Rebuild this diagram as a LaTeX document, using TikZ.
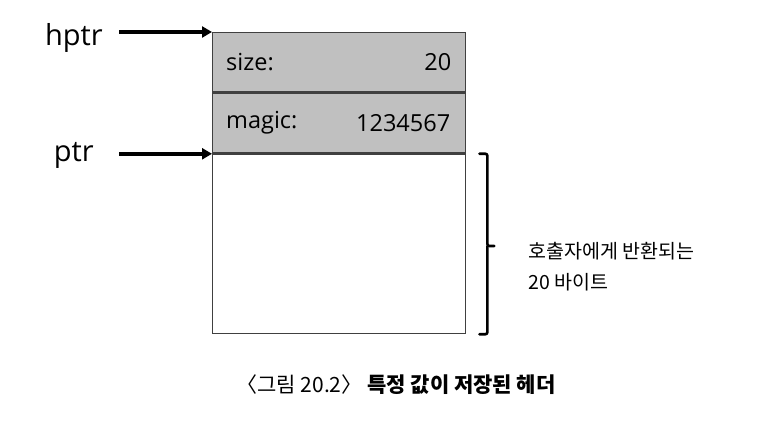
\documentclass[tikz,border=0pt]{standalone}
\usepackage{fontspec}
\setmainfont{Open Sans}
\newfontfamily\krfont{Noto Sans CJK KR}
\usetikzlibrary{arrows.meta,positioning}
\definecolor{cellgray}{RGB}{192,192,192}
\definecolor{celledge}{RGB}{64,64,64}
\tikzset{
  cell/.style={
    draw=celledge,
    line width=1.4pt,
    rectangle,
    anchor=north west,
    minimum width=253pt,
    inner sep=0pt
  },
  cell-head/.style={cell, fill=cellgray},
  cell-data/.style={cell, fill=white},
  field/.style={font=\fontsize{23.5}{26}\selectfont, inner sep=0pt},
  ptr-label/.style={font=\fontsize{29}{32}\selectfont, inner sep=0pt, anchor=east},
  ptr-arrow/.style={line width=3.5pt, -{Triangle[length=10pt,width=11pt]}},
  brace-line/.style={line width=2.6pt, line cap=round, rounded corners=2pt},
  note/.style={font=\krfont\fontsize{19.5}{31}\selectfont, align=left, anchor=west, inner sep=0pt}
}

\begin{document}
\begin{tikzpicture}[x=1pt,y=-1pt]
  \useasboundingbox (0,0) rectangle (782,422);
  % header cells and returned area
  \node[cell-head, minimum height=59pt] (sizecell) at (212,32) {};
  \node[cell-head, minimum height=60pt] (magiccell) at (sizecell.south west) {};
  \node[cell-data, minimum height=179pt] (datacell) at (magiccell.south west) {};
  % field texts
  \node[field, anchor=west] (sizename) at ([xshift=14pt]sizecell.west) {size:};
  \node[field, anchor=east] (sizeval) at ([xshift=-15pt]sizecell.east) {20};
  \node[field, anchor=west] (magicname) at ([xshift=14pt]magiccell.west) {magic:};
  \node[field, anchor=east] (magicval) at ([xshift=-16pt]magiccell.east) {1234567};
  % pointers
  \node[ptr-label] (hptr) at (103,38) {hptr};
  \node[ptr-label] (ptr) at (94,155) {ptr};
  \draw[ptr-arrow] ([xshift=16pt]hptr.east |- sizecell.north west) -- (sizecell.north west);
  \draw[ptr-arrow] ([xshift=25pt]ptr.east |- datacell.north west) -- (datacell.north west);
  % brace for the returned bytes
  \coordinate (bracetop) at ([xshift=13pt]datacell.north east);
  \coordinate (bracebot) at ([xshift=13pt]datacell.south east);
  \coordinate (bracemid) at ([xshift=28pt,yshift=-2pt]datacell.east);
  \draw[brace-line] (bracetop) -| ([xshift=-7pt]bracemid) -- (bracemid);
  \draw[brace-line] (bracebot) -| ([xshift=-7pt]bracemid);
  \node[note] (retnote) at ([xshift=34pt,yshift=-21pt]bracemid) {호출자에게 반환되는\\20 바이트};
  % caption
  \node[font=\krfont\fontsize{21}{24}\selectfont, inner sep=0pt] (caption) at (396,385)
    {〈그림 20.2〉 \textbf{특정 값이 저장된 헤더}};
\end{tikzpicture}
\end{document}
